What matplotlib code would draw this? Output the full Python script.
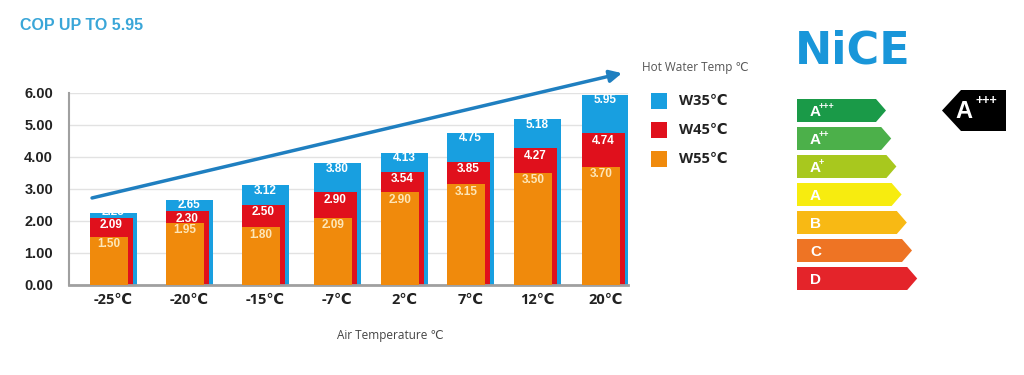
import matplotlib.pyplot as plt
from matplotlib.patches import Rectangle, Polygon

# Data
categories = ['-25℃', '-20℃', '-15℃', '-7℃', '2℃', '7℃', '12℃', '20℃']
w35 = [2.25, 2.65, 3.12, 3.80, 4.13, 4.75, 5.18, 5.95]
w45 = [2.09, 2.30, 2.50, 2.90, 3.54, 3.85, 4.27, 4.74]
w55 = [1.50, 1.95, 1.80, 2.09, 2.90, 3.15, 3.50, 3.70]
series_names = ['W35℃', 'W45℃', 'W55℃']
energy_classes = ['A', 'A', 'A', 'A', 'B', 'C', 'D']
energy_sups = ['+++', '++', '+', '', '', '', '']

# layout (bar slots are not evenly spaced in the original)
xpos = [0, 1.13, 2.27, 3.34, 4.34, 5.33, 6.33, 7.34]
colors = ['#189fe0', '#e0101c', '#f08a0c']
label_colors = ['white', 'white', '#fde6b8']
widths = [0.70, 0.64, 0.567]
cfont = ['Open Sans', 'DejaVu Sans']

fig = plt.figure(figsize=(10.24, 3.75), dpi=100)

# overlay in pixel coordinates for the decorations
deco = fig.add_axes([0, 0, 1, 1])
deco.set_xlim(0, 1024)
deco.set_ylim(375, 0)
deco.axis('off')

ax = fig.add_axes([69 / 1024, 1 - 285 / 375, 559 / 1024, 192 / 375])
left = [x - 0.35 for x in xpos]
series = [w35, w45, w55]
for i, vals in enumerate(series):
    ax.bar(left, vals, width=widths[i], align='edge', color=colors[i],
           zorder=1 + i, linewidth=0)
    for j, (l, v) in enumerate(zip(left, vals)):
        ty = v - 0.23 if i else max(v - 0.17, w45[j] + 0.2)
        ax.text(l + widths[i] / 2, ty, f'{v:.2f}', ha='center', va='center',
                color=label_colors[i], fontsize=8.5, fontweight='bold',
                family='Liberation Sans', zorder=1.5 + i)

ax.set_xlim(-0.664, 7.68)
ax.set_ylim(0, 6)
ax.set_yticks(range(7))
ax.set_yticklabels([f'{v:.2f}' for v in range(7)], fontsize=10.5,
                   fontweight='bold', family='Liberation Sans', color='#222222')
ax.set_xticks(xpos)
ax.set_xticklabels(categories, fontsize=10.5, fontweight='bold', family=cfont,
                   color='#222222')
ax.tick_params(length=0)
ax.tick_params(axis='y', pad=11.5)
ax.tick_params(axis='x', pad=6)
ax.grid(axis='y', color='#e2e2e2', lw=1, zorder=0)
ax.set_axisbelow(True)
for s in ['top', 'right']:
    ax.spines[s].set_visible(False)
ax.spines['left'].set_color('#a0a0a0')
ax.spines['left'].set_linewidth(1.5)
ax.spines['bottom'].set_color('#a0a0a0')
ax.spines['bottom'].set_linewidth(2)

# trend arrow
ax.annotate('', xy=(7.59, 6.62), xytext=(-0.32, 2.72),
            arrowprops=dict(arrowstyle='-|>', color='#1f7fc0', lw=2.5,
                            mutation_scale=18, shrinkA=0, shrinkB=0),
            annotation_clip=False, zorder=6)

# titles
deco.text(20, 25, 'COP UP TO 5.95', color='#3aa6d8', fontsize=11.5,
          fontweight='bold', family='Liberation Sans', va='center', ha='left')
deco.text(390, 336, 'Air Temperature ℃', color='#444444', fontsize=8.5,
          family=cfont, ha='center', va='center')
deco.text(642, 67, 'Hot Water Temp ℃', color='#555555', fontsize=8.5,
          family=cfont, ha='left', va='center')

# legend
for i, name in enumerate(series_names):
    yc = 101 + i * 29
    deco.add_patch(Rectangle((651, yc - 8), 16, 16, color=colors[i], lw=0))
    deco.text(679, yc, name, fontsize=10.5, fontweight='bold', family=cfont,
              color='#222222', ha='left', va='center')

# logo
deco.text(795, 51, 'NiCE', color='#1996d9', fontsize=32, fontweight='bold',
          family='DejaVu Sans', ha='left', va='center')

# energy scale
e_colors = ['#1a9a48', '#4cb04a', '#a8c81e', '#f7ec0f', '#f8b914', '#ee7424', '#e4242a']
for i, (cl, sup) in enumerate(zip(energy_classes, energy_sups)):
    yc = 110.5 + i * 28
    tip = 886 + i * 5.2
    h = 11.5
    deco.add_patch(Polygon([(797, yc - h), (tip - 10, yc - h), (tip, yc),
                            (tip - 10, yc + h), (797, yc + h)],
                           closed=True, color=e_colors[i], lw=0))
    deco.text(810, yc + 1, cl, color='white', fontsize=11, fontweight='bold',
              family='Liberation Sans', ha='left', va='center')
    if sup:
        deco.text(819, yc - 4, sup, color='white', fontsize=6.5,
                  fontweight='bold', family='Liberation Sans', ha='left',
                  va='center')

# rating tag
deco.add_patch(Polygon([(942, 110.5), (961, 90), (1006, 90), (1006, 131),
                        (961, 131)], closed=True, color='black', lw=0))
deco.text(955, 112, 'A', color='white', fontsize=17, fontweight='bold',
          family='Liberation Sans', ha='left', va='center')
deco.text(975, 101, '+++', color='white', fontsize=9, fontweight='bold',
          family='Liberation Sans', ha='left', va='center')

fig.savefig('out.png', dpi=100)
